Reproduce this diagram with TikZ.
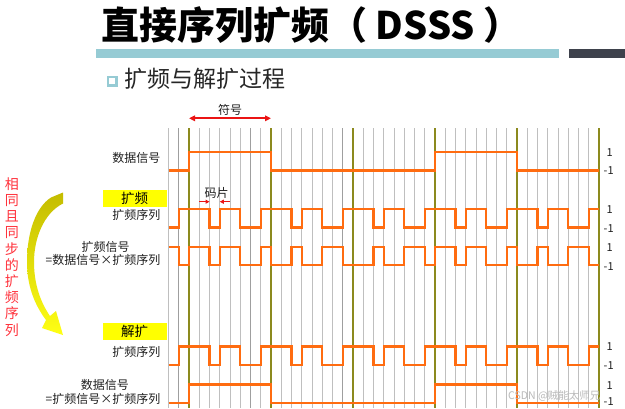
\documentclass[tikz,border=0pt]{standalone}
\usepackage{fontspec}
\newfontfamily\cjk{Noto Sans CJK SC}
\usetikzlibrary{arrows.meta}
\newcommand\fsz[1]{\fontsize{#1}{#1}\selectfont}
\definecolor{worange}{RGB}{255,108,16}
\definecolor{wolive}{RGB}{140,138,30}
\definecolor{barblue}{RGB}{150,203,212}
\definecolor{bardark}{RGB}{62,66,76}
\definecolor{wred}{RGB}{235,20,20}
\definecolor{tred}{RGB}{255,50,60}
\definecolor{hlyellow}{RGB}{255,255,0}
\definecolor{arrtop}{RGB}{196,188,0}
\definecolor{arrbot}{RGB}{255,255,20}
\begin{document}
\begin{tikzpicture}[x=1pt,y=-1pt,
  lbl/.style={inner sep=0pt, font=\cjk\fsz{12}, text=black!88},
  num/.style={inner sep=0pt, font=\cjk\fsz{11}, text=black!88, anchor=base west},
  wave/.style={draw=worange, line width=2.2pt, line join=miter},
  gridl/.style={draw=gray!50, line width=0.9pt},
  gridd/.style={draw=gray!75, line width=0.9pt},
  gridol/.style={draw=wolive, line width=1.8pt},
  hlbox/.style={fill=hlyellow, inner sep=0pt, minimum width=64pt, minimum height=17pt, font=\cjk\fsz{13.5}, text=black},
  redarr/.style={draw=wred, line width=1.8pt},
  chiparr/.style={draw=wred, line width=1.2pt, -{Triangle[length=4pt,width=4pt]}},
]
\useasboundingbox[fill=white] (0,0) rectangle (625,408);

% title
\node[inner sep=0pt, anchor=base west, font=\cjk\bfseries\fsz{38}] (title) at (101,39.5) {直接序列扩频（ DSSS ）};
\fill[barblue] (96,49) rectangle (559,57.5);
\fill[bardark] (569,49) rectangle (625,58);
\draw[barblue, line width=2.2pt] (108,77) rectangle (116.5,85.5);
\node[inner sep=0pt, anchor=base west, font=\cjk\fsz{23}, text=black!85] (sub) at (124,87.5) {扩频与解扩过程};

% grid and waves
\begin{scope}[xshift=168.5pt, x=10.25pt]
  \foreach \k in {0,3,4,5,6,7,9,11,12,13,14,15,16,19,20,21,22,23,24,25,27,28,29,30,31,32,33,35,36,37,38,39,40,41}
    \draw[gridl] (\k,128) -- (\k,408);
  \foreach \k in {1,8,17}
    \draw[gridd] (\k,128) -- (\k,408);
  \foreach \k in {2,10,18,26,34,42}
    \draw[gridol] (\k,128) -- (\k,408);

  % data signal
  \draw[wave] (0,170.5) -| (2,152) -| (10,170.5) -| (26,152) -| (34,170.5) -- (42,170.5);
  % spreading sequence
  \draw[wave] (0,227.5) -| (1,209) -| (4,227.5) -| (5,209) -| (7,227.5) -| (9,209) -| (12,227.5) -| (13,209) -| (15,227.5) -| (17,209) -| (20,227.5) -| (21,209) -| (23,227.5) -| (25,209) -| (28,227.5) -| (29,209) -| (31,227.5) -| (33,209) -| (36,227.5) -| (37,209) -| (39,227.5) -| (41,209) -- (42,209);
  % spread signal
  \draw[wave] (0,246.7) -| (1,265) -| (2,246.7) -| (4,265) -| (5,246.7) -| (7,265) -| (9,246.7) -| (10,265) -| (12,246.7) -| (13,265) -| (15,246.7) -| (17,265) -| (20,246.7) -| (21,265) -| (23,246.7) -| (25,265) -| (26,246.7) -| (28,265) -| (29,246.7) -| (31,265) -| (33,246.7) -| (34,265) -| (36,246.7) -| (37,265) -| (39,246.7) -| (41,265) -- (42,265);
  % despreading sequence
  \draw[wave] (0,365) -| (1,346.5) -| (4,365) -| (5,346.5) -| (7,365) -| (9,346.5) -| (12,365) -| (13,346.5) -| (15,365) -| (17,346.5) -| (20,365) -| (21,346.5) -| (23,365) -| (25,346.5) -| (28,365) -| (29,346.5) -| (31,365) -| (33,346.5) -| (36,365) -| (37,346.5) -| (39,365) -| (41,346.5) -- (42,346.5);
  % recovered data
  \draw[wave] (0,402.7) -| (2,384.5) -| (10,402.7) -| (26,384.5) -| (34,402.7) -- (42,402.7);

  % symbol arrow
  \coordinate (sa) at (2,118.3);
  \coordinate (sb) at (10,118.3);
  \draw[redarr, {Triangle[length=6pt,width=5.5pt]}-{Triangle[length=6pt,width=5.5pt]}] (sa) -- (sb);
  % chip arrows
  \coordinate (ca1) at (3,201.7);
  \coordinate (ca2) at (4,201.7);
  \coordinate (cb1) at (6,201.7);
  \coordinate (cb2) at (5,201.7);
  \draw[chiparr] (ca1) -- (ca2);
  \draw[chiparr] (cb1) -- (cb2);
\end{scope}

\node[lbl, anchor=base] (fh) at (230,114.6) {符号};
\node[lbl, anchor=base] (mp) at (216.5,197.6) {码片};

% left labels
\node[lbl, anchor=base east] (l1) at (160.5,162.9) {数据信号};
\node[hlbox] (kp) at (134.7,198.3) {扩频};
\node[lbl, anchor=base east] (l2) at (160.5,219.6) {扩频序列};
\node[lbl, anchor=base] (l3a) at (105.5,251.9) {扩频信号};
\node[lbl, anchor=base east] (l3b) at (160.5,264.6) {=数据信号×扩频序列};
\node[hlbox] (jk) at (134.5,331.3) {解扩};
\node[lbl, anchor=base east] (l4) at (160.5,356.3) {扩频序列};
\node[lbl, anchor=base] (l5a) at (105,389.6) {数据信号};
\node[lbl, anchor=base east] (l5b) at (160.5,403.6) {=扩频信号×扩频序列};

% right labels
\node[num] (r1h) at (606.5,156.7) {1};
\node[num] (r1l) at (603.5,174.7) {-1};
\node[num] (r2h) at (606.5,213) {1};
\node[num] (r2l) at (603.5,232) {-1};
\node[num] (r3h) at (606.5,251) {1};
\node[num] (r3l) at (603.5,270) {-1};
\node[num] (r4h) at (606.5,350) {1};
\node[num] (r4l) at (603.5,369) {-1};
\node[num] (r5h) at (606.5,389) {1};
\node[num] (r5l) at (603.5,405.5) {-1};

% red vertical text
\foreach \c [count=\i from 0] in {相,同,且,同,步,的,扩,频,序,列}
  \node[inner sep=0pt, anchor=base, font=\cjk\fsz{14}, text=tred] (v\i) at (12,{189.3+16.2*\i}) {\c};

% curved arrow
\shade[top color=arrtop, bottom color=arrbot]
  (63,192.5) -- (63,203.5)
  .. controls (44,213) and (34,238) .. (34,262)
  .. controls (34,285) and (41,303) .. (50,316)
  -- (56,311) -- (63,335) -- (42,328) -- (46,320)
  .. controls (34,304) and (27,285) .. (27,262)
  .. controls (27,232) and (36,207) .. (51,197.5) -- cycle;

% watermark
\node[inner sep=0pt, anchor=base west, font=\cjk\fsz{10.5}, text=gray!55] (wm) at (508,399) {CSDN @贼能太师兄};
\end{tikzpicture}
\end{document}
